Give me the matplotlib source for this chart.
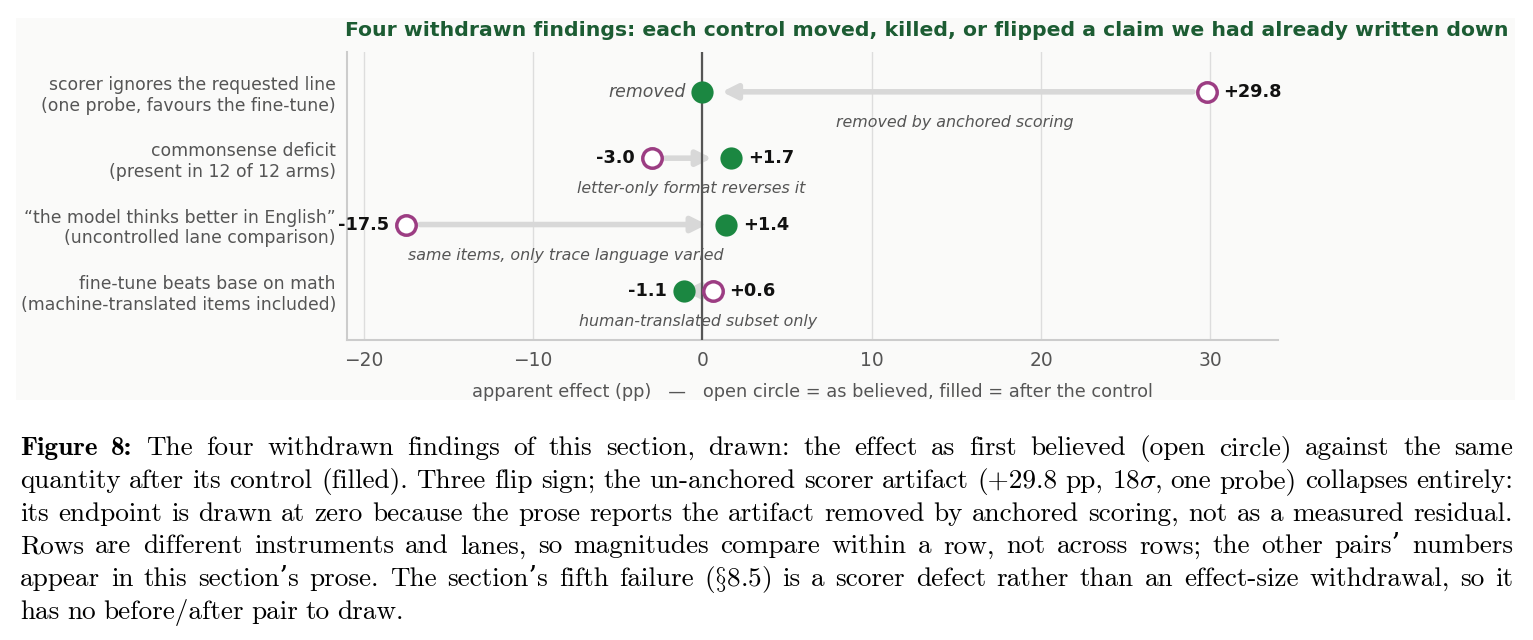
import matplotlib
matplotlib.use("Agg")
import matplotlib.pyplot as plt
from matplotlib.patches import Rectangle

# ---- data ----
rows = [
    "scorer ignores the requested line\n(one probe, favours the fine-tune)",
    "commonsense deficit\n(present in 12 of 12 arms)",
    "\u201cthe model thinks better in English\u201d\n(uncontrolled lane comparison)",
    "fine-tune beats base on math\n(machine-translated items included)",
]
believed = [29.8, -3.0, -17.5, 0.6]
after = [0.0, 1.7, 1.4, -1.1]
believed_labels = ["+29.8", "-3.0", "-17.5", "+0.6"]
after_labels = ["removed", "+1.7", "+1.4", "-1.1"]
notes = [
    "removed by anchored scoring",
    "letter-only format reverses it",
    "same items, only trace language varied",
    "human-translated subset only",
]
xticks = [-20, -10, 0, 10, 20, 30]

caption_lines = [
    "Figure 8: The four withdrawn findings of this section, drawn: the effect as first believed (open circle) against the same",
    "quantity after its control (filled). Three flip sign; the un-anchored scorer artifact (+29.8 pp, 18$\\sigma$, one probe) collapses entirely:",
    "its endpoint is drawn at zero because the prose reports the artifact removed by anchored scoring, not as a measured residual.",
    "Rows are different instruments and lanes, so magnitudes compare within a row, not across rows; the other pairs\u2019 numbers",
    "appear in this section\u2019s prose. The section\u2019s fifth failure ($\\S$8.5) is a scorer defect rather than an effect-size withdrawal, so it",
    "has no before/after pair to draw.",
]

GREEN = "#1b8741"
PURPLE = "#9c3d83"
TITLE_GREEN = "#1c5c33"
GREY_TXT = "#555555"
ARROW = "#d8d8d8"

plt.rcParams["mathtext.fontset"] = "cm"

W, H = 1533, 640
fig = plt.figure(figsize=(W / 100, H / 100), dpi=100)

# light panel behind the chart
fig.patches.append(Rectangle((16 / W, 1 - 400 / H), (1515 - 16) / W, (400 - 18) / H,
                             transform=fig.transFigure, facecolor="#fafaf9",
                             edgecolor="none", zorder=-5))

ax = fig.add_axes([347 / W, 1 - 340 / H, (1278 - 347) / W, (340 - 52) / H])
ax.set_zorder(2)
ax.set_facecolor("none")

ypos = list(range(len(rows)))
for y, b, a, bl, al, note in zip(ypos, believed, after, believed_labels, after_labels, notes):
    ax.annotate("", xy=(a, y), xytext=(b, y),
                arrowprops=dict(arrowstyle="-|>", color=ARROW, lw=4,
                                mutation_scale=22, shrinkA=10, shrinkB=14),
                zorder=2)
    ax.plot([b], [y], "o", ms=14, mfc="white", mec=PURPLE, mew=2.5, zorder=4)
    ax.plot([a], [y], "o", ms=16, mfc=GREEN, mec=GREEN, mew=0, zorder=4)
    lo, hi = (b, a) if b < a else (a, b)
    lo_lab, hi_lab = (bl, al) if b < a else (al, bl)
    for xv, lab, dx, ha in [(lo, lo_lab, -12, "right"), (hi, hi_lab, 12, "left")]:
        if lab == "removed":
            ax.annotate(lab, (xv, y), xytext=(dx, 0), textcoords="offset points",
                        ha=ha, va="center", fontsize=12.5, style="italic", color=GREY_TXT)
        else:
            ax.annotate(lab, (xv, y), xytext=(dx, 0), textcoords="offset points",
                        ha=ha, va="center", fontsize=12.8, fontweight="bold", color="#111111")
    ax.text((b + a) / 2, y + 0.46, note, ha="center", va="center", fontsize=11.4,
            style="italic", color=GREY_TXT, zorder=5)

ax.axvline(0, color="#555555", lw=1.6, zorder=3)
ax.set_xlim(-21, 34)
ax.set_ylim(3.74, -0.6)
ax.set_xticks(xticks)
ax.set_yticks(ypos)
ax.set_yticklabels(rows, fontsize=12.4, color=GREY_TXT)
ax.tick_params(axis="y", length=0, pad=8)
ax.tick_params(axis="x", length=0, pad=8, labelsize=13.4, labelcolor=GREY_TXT)
ax.grid(axis="x", color="#dddddd", lw=1, zorder=1)
ax.set_axisbelow(True)
for s in ["top", "right"]:
    ax.spines[s].set_visible(False)
for s in ["left", "bottom"]:
    ax.spines[s].set_color("#cccccc")
    ax.spines[s].set_linewidth(1.5)
ax.set_xlabel("apparent effect (pp)   \u2014   open circle = as believed, filled = after the control",
              fontsize=12.75, color=GREY_TXT, labelpad=9)

fig.text(927 / W, 1 - 30 / H,
         "Four withdrawn findings: each control moved, killed, or flipped a claim we had already written down",
         ha="center", va="center", fontsize=14.7, fontweight="bold", color=TITLE_GREEN)

# caption, justified word by word
renderer = fig.canvas.get_renderer()
left, right = 20, 1513
for i, line in enumerate(caption_lines):
    words = line.split(" ")
    yb = 1 - (455 + i * 32.8) / H
    texts = []
    for j, w in enumerate(words):
        bold = i == 0 and j < 2
        fam = ["cmb10", "DejaVu Serif"] if bold else ["cmr10", "DejaVu Serif"]
        texts.append(fig.text(0, yb, w, fontsize=19.6, family=fam, va="baseline", color="black"))
    widths = [t.get_window_extent(renderer).width for t in texts]
    if i < len(caption_lines) - 1:
        gap = (right - left - sum(widths)) / (len(words) - 1)
    else:
        gap = 7.5
    x = left
    for t, wd in zip(texts, widths):
        t.set_x(x / W)
        x += wd + gap

fig.savefig("out.png", dpi=100)
